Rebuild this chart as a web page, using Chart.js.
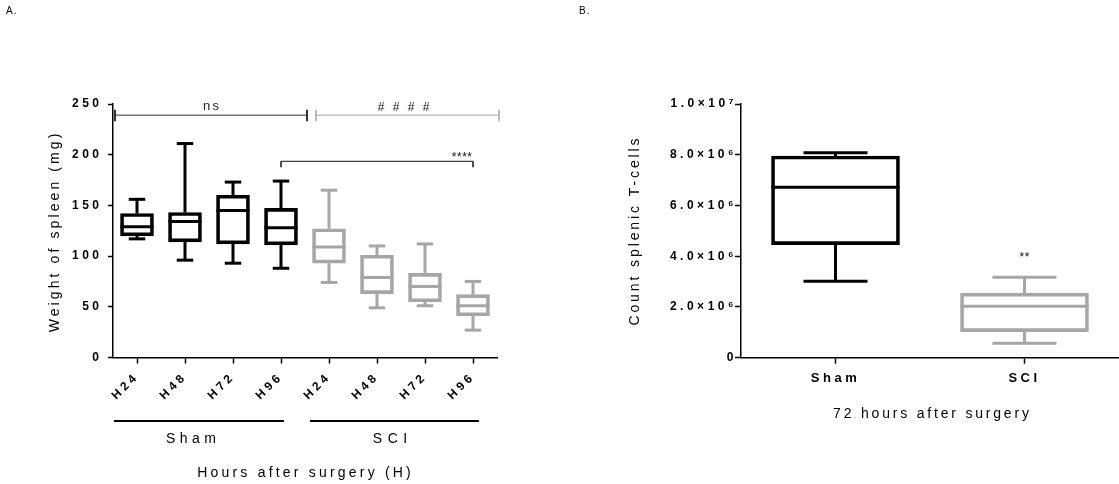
<!DOCTYPE html>
<html>
<head>
<meta charset="utf-8">
<script src="https://cdn.jsdelivr.net/npm/chart.js@4/dist/chart.umd.min.js"></script>
<style>
  html, body { margin: 0; padding: 0; background: #fff; overflow: hidden; }
  canvas { position: absolute; top: 0; }
  #chartA { left: 0; }
  #chartB { left: 560px; }
</style>
</head>
<body>
<canvas id="chartA" width="560" height="484"></canvas>
<canvas id="chartB" width="559" height="484"></canvas>
<script>
// ---- panel A : spleen weight, box plots per time point
const hoursA = ['H24', 'H48', 'H72', 'H96', 'H24', 'H48', 'H72', 'H96'];
const groupA = ['Sham', 'Sham', 'Sham', 'Sham', 'SCI', 'SCI', 'SCI', 'SCI'];
const minA = [117, 96, 93, 88, 74, 49, 51, 27];
const q1A  = [120, 114, 112, 111, 93, 63, 55, 41];
const medA = [129, 134, 145, 128, 109, 79, 70, 51];
const q3A  = [142, 143, 160, 147, 127, 101, 83, 62];
const maxA = [156, 211, 173, 174, 165, 110, 112, 75];

// ---- panel B : splenic T-cells at 72 h
const groupsB = ['Sham', 'SCI'];
const minB = [3.01e6, 0.57e6];
const q1B  = [4.46e6, 1.03e6];
const medB = [6.72e6, 2.03e6];
const q3B  = [7.95e6, 2.54e6];
const maxB = [8.08e6, 3.17e6];

const FONT = "'Liberation Sans', Arial, sans-serif";
const BLACK = '#000000';
const GREY = '#a6a6a8';
const colorOf = g => g === 'Sham' ? BLACK : GREY;

// draw text with letter spacing, centred properly
function txt(ctx, s, x, y, font, color, align, spacing) {
    ctx.save();
    ctx.font = font;
    ctx.fillStyle = color;
    ctx.letterSpacing = spacing + 'px';
    ctx.textBaseline = 'middle';
    ctx.textAlign = 'left';
    let w = ctx.measureText(s).width - spacing;
    let x0 = x;
    if (align === 'center') x0 = x - w / 2;
    if (align === 'right') x0 = x - w;
    ctx.fillText(s, x0, y);
    ctx.restore();
}

function vtxt(ctx, s, x, y, font, color, spacing) {
    ctx.save();
    ctx.translate(x, y);
    ctx.rotate(-Math.PI / 2);
    txt(ctx, s, 0, 0, font, color, 'center', spacing);
    ctx.restore();
}

function line(ctx, x1, y1, x2, y2, color, w) {
    ctx.save();
    ctx.strokeStyle = color;
    ctx.lineWidth = w;
    ctx.beginPath();
    ctx.moveTo(x1, y1);
    ctx.lineTo(x2, y2);
    ctx.stroke();
    ctx.restore();
}

// spacing for the library's own tick labels
const spacingPlugin = {
    id: 'spacing',
    beforeUpdate(chart, args, opts) { chart.ctx.letterSpacing = opts.px + 'px'; },
    beforeDraw(chart, args, opts) { chart.ctx.letterSpacing = opts.px + 'px'; },
    afterDraw(chart) { chart.ctx.letterSpacing = '0px'; }
};

// whiskers + median on top of the floating bars
const boxPlugin = {
    id: 'box',
    afterDatasetsDraw(chart, args, o) {
        const ctx = chart.ctx;
        const y = chart.scales.y;
        chart.getDatasetMeta(0).data.forEach((bar, i) => {
            const x = bar.x, w = bar.width, c = o.colors[i];
            const cap = w / 4;
            line(ctx, x - w / 2, y.getPixelForValue(o.med[i]), x + w / 2, y.getPixelForValue(o.med[i]), c, 3);
            line(ctx, x, y.getPixelForValue(o.q3[i]), x, y.getPixelForValue(o.max[i]), c, 3);
            line(ctx, x, y.getPixelForValue(o.q1[i]), x, y.getPixelForValue(o.min[i]), c, 3);
            line(ctx, x - cap, y.getPixelForValue(o.max[i]), x + cap, y.getPixelForValue(o.max[i]), c, 3);
            line(ctx, x - cap, y.getPixelForValue(o.min[i]), x + cap, y.getPixelForValue(o.min[i]), c, 3);
        });
    }
};

// brackets, group labels and titles of panel A
const annotA = {
    id: 'annotA',
    afterDraw(chart) {
        const ctx = chart.ctx;
        const xs = chart.scales.x, ys = chart.scales.y;
        const px = i => xs.getPixelForValue(i);
        const top = ys.getPixelForValue(239);

        // ns bracket over Sham
        let a = px(0) - 22, b = px(3) + 26;
        line(ctx, a, top, b, top, '#333', 1);
        line(ctx, a, top - 5.5, a, top + 6, '#333', 2);
        line(ctx, b, top - 5.5, b, top + 6, '#333', 2);
        txt(ctx, 'ns', (a + b) / 2, top - 9, '13px ' + FONT, '#222', 'center', 2.5);

        // #### bracket over SCI
        a = px(4) - 13; b = px(7) + 26;
        line(ctx, a, top, b, top, GREY, 1);
        line(ctx, a, top - 5.5, a, top + 6, GREY, 1.5);
        line(ctx, b, top - 5.5, b, top + 6, GREY, 1.5);
        txt(ctx, '# # # #', (a + b) / 2 - 4, top - 7, '12px ' + FONT, '#111', 'center', 2.5);

        // **** bracket H96 sham vs H96 SCI
        const ys2 = ys.getPixelForValue(193.5);
        a = px(3); b = px(7);
        line(ctx, a, ys2, b, ys2, '#111', 1);
        line(ctx, a, ys2, a, ys2 + 6, '#111', 1.5);
        line(ctx, b, ys2, b, ys2 + 6, '#111', 1.5);
        txt(ctx, '****', b - 1, ys2 - 4, '12px ' + FONT, '#111', 'right', 0.5);

        // group underlines and names
        const ly = 421;
        line(ctx, px(0) - 23, ly, px(3) + 3, ly, BLACK, 2);
        line(ctx, px(4) - 19, ly, px(7) + 6, ly, BLACK, 2);
        txt(ctx, 'Sham', 191, 439, '14px ' + FONT, BLACK, 'center', 4.5);
        txt(ctx, 'SCI', 390, 439, '14px ' + FONT, BLACK, 'center', 5.5);

        txt(ctx, 'Hours after surgery (H)', 304, 473, '14px ' + FONT, BLACK, 'center', 3.2);
        vtxt(ctx, 'Weight of spleen (mg)', 55, 233, '14px ' + FONT, BLACK, 3.1);
        txt(ctx, 'A.', 6, 11, '10px ' + FONT, BLACK, 'left', 1);
    }
};

// annotations of panel B
const annotB = {
    id: 'annotB',
    afterDraw(chart) {
        const ctx = chart.ctx;
        const xs = chart.scales.x, ys = chart.scales.y;
        txt(ctx, '**', xs.getPixelForValue(1), ys.getPixelForValue(3.95e6), '12px ' + FONT, '#111', 'center', 0.5);
        txt(ctx, '72 hours after surgery', 371, 414, '14px ' + FONT, BLACK, 'center', 2.8);
        vtxt(ctx, 'Count splenic T-cells', 75, 232, '14px ' + FONT, BLACK, 2.9);
        txt(ctx, 'B.', 19, 11, '10px ' + FONT, BLACK, 'left', 1);
    }
};

const sup = {'0': '⁰', '1': '¹', '2': '²', '3': '³', '4': '⁴', '5': '⁵', '6': '⁶', '7': '⁷', '8': '⁸', '9': '⁹'};
function sciLabel(v) {
    if (v === 0) return '0';
    const e = Math.floor(Math.log10(v) + 1e-9);
    const m = (v / Math.pow(10, e)).toFixed(1);
    return m + '×10' + String(e).split('').map(c => sup[c]).join('');
}

new Chart(document.getElementById('chartA'), {
    type: 'bar',
    data: {
        labels: hoursA,
        datasets: [{
            data: q1A.map((q, i) => [q, q3A[i]]),
            backgroundColor: 'rgba(255,255,255,0)',
            borderColor: groupA.map(colorOf),
            borderWidth: 3,
            borderSkipped: false,
            barThickness: 33
        }]
    },
    plugins: [spacingPlugin, boxPlugin, annotA],
    options: {
        responsive: false,
        animation: false,
        devicePixelRatio: 1,
        layout: { padding: { top: 104, right: 63, left: 0, bottom: 0 } },
        plugins: {
            legend: { display: false },
            tooltip: { enabled: false },
            spacing: { px: 3.5 },
            box: { min: minA, q1: q1A, med: medA, q3: q3A, max: maxA, colors: groupA.map(colorOf) }
        },
        scales: {
            x: {
                offset: true,
                border: { color: BLACK, width: 1.5 },
                grid: { drawOnChartArea: false, offset: false, tickLength: 6, tickColor: BLACK, tickWidth: 1.5 },
                ticks: { color: BLACK, font: { family: FONT, size: 12, weight: 'bold' }, minRotation: 45, maxRotation: 45, padding: 6 },
                afterFit(s) { s.height = 126.5; }
            },
            y: {
                min: 0, max: 250,
                border: { color: BLACK, width: 1.5 },
                grid: { drawOnChartArea: false, tickLength: 5, tickColor: BLACK, tickWidth: 1.5 },
                ticks: { stepSize: 50, color: BLACK, font: { family: FONT, size: 12, weight: 'bold' }, padding: 5.5 },
                afterFit(s) { s.width = 113; }
            }
        }
    }
});

new Chart(document.getElementById('chartB'), {
    type: 'bar',
    data: {
        labels: groupsB,
        datasets: [{
            data: q1B.map((q, i) => [q, q3B[i]]),
            backgroundColor: 'rgba(255,255,255,0)',
            borderColor: groupsB.map(colorOf),
            borderWidth: 3,
            borderSkipped: false,
            barThickness: 128
        }]
    },
    plugins: [spacingPlugin, boxPlugin, annotB],
    options: {
        responsive: false,
        animation: false,
        devicePixelRatio: 1,
        layout: { padding: { top: 104, right: 0, left: 0, bottom: 0 } },
        plugins: {
            legend: { display: false },
            tooltip: { enabled: false },
            spacing: { px: 3.5 },
            box: { min: minB, q1: q1B, med: medB, q3: q3B, max: maxB, colors: groupsB.map(colorOf) }
        },
        scales: {
            x: {
                offset: true,
                border: { color: BLACK, width: 1.5 },
                grid: { drawOnChartArea: false, offset: false, tickLength: 6, tickColor: BLACK, tickWidth: 1.5 },
                ticks: { color: BLACK, font: { family: FONT, size: 13, weight: 'bold' }, maxRotation: 0, padding: 7 },
                afterFit(s) { s.height = 126.3; }
            },
            y: {
                min: 0, max: 1e7,
                border: { color: BLACK, width: 1.5 },
                grid: { drawOnChartArea: false, tickLength: 6, tickColor: BLACK, tickWidth: 1.5 },
                ticks: { stepSize: 2e6, color: BLACK, font: { family: FONT, size: 12, weight: 'bold' }, padding: -2, callback: v => sciLabel(v) },
                afterFit(s) { s.width = 181; }
            }
        }
    }
});
</script>
</body>
</html>
